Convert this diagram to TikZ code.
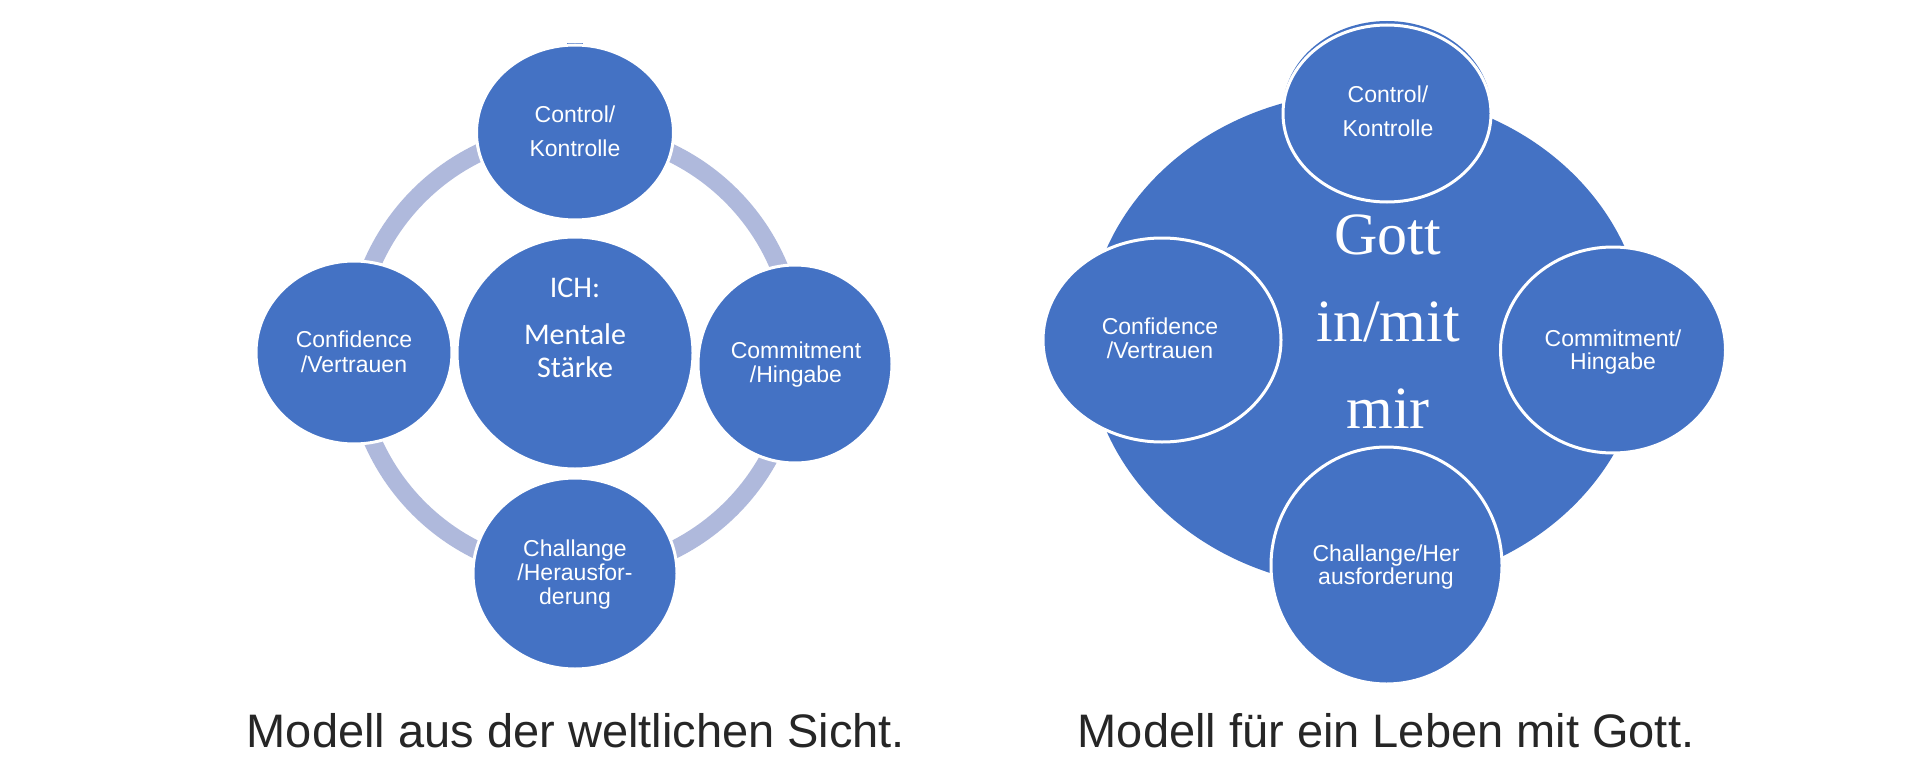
\documentclass[tikz,border=0pt]{standalone}
\usepackage{fontspec}
\setmainfont{Liberation Sans}
\newfontfamily\calfont{Carlito}
\newfontfamily\serfont{Liberation Serif}
\usetikzlibrary{shapes.geometric}
\definecolor{mblue}{HTML}{4472C4}
\definecolor{mring}{HTML}{AFB9DC}
\definecolor{mcap}{HTML}{262626}
\begin{document}
\begin{tikzpicture}[x=1pt,y=-1pt,
  bub/.style={ellipse, fill=mblue, draw=white, line width=3pt, inner sep=0pt},
  bigbub/.style={ellipse, fill=mblue, inner sep=0pt},
  lbl/.style={text=white, align=center, inner sep=0pt},
  ringline/.style={draw=mring, line width=18pt},
  caption/.style={text=mcap, inner sep=0pt, anchor=base, font=\fontsize{47}{56}\selectfont}]
\useasboundingbox (0,0) rectangle (1920,768);
\fill[white] (0,0) rectangle (1920,768);

% ---------- left model ----------
\coordinate (ringc) at (575,352);
\draw[ringline] (ringc) circle[radius=221pt];
\fill[mblue] (567,43) rectangle (583,48);
\node[bub, minimum width=197pt, minimum height=175pt] (ctrlL) at (575,132.5) {};
\node[bub, minimum width=196pt, minimum height=183pt] (confL) at (354,352.5) {};
\node[bub, minimum width=236pt, minimum height=232pt] (ichL) at (575,353) {};
\node[bub, minimum width=194pt, minimum height=198pt] (commL) at (795,364) {};
\node[bub, minimum width=204pt, minimum height=191pt] (challL) at (575,573.5) {};

\node[lbl, font=\fontsize{23}{34}\selectfont] (ctrlLt) at (575,131.5) {Control/\\Kontrolle};
\node[lbl, font=\fontsize{23}{25}\selectfont] (confLt) at (354,352) {Confidence\\/Vertrauen};
\node[lbl, font=\calfont\fontsize{30}{33}\selectfont] (ichLt) at (575,328) {ICH:\\[14pt]Mentale\\Stärke};
\node[lbl, font=\fontsize{23}{24}\selectfont] (commLt) at (796,365) {Commitment\\/Hingabe};
\node[lbl, font=\fontsize{23}{24}\selectfont] (challLt) at (575,575) {Challange\\/Herausfor-\\derung};

% ---------- right model ----------
\node[bigbub, minimum width=558pt, minimum height=496pt] (gottR) at (1366,340) {};
\node[bigbub, minimum width=208pt, minimum height=177pt] (ctrlRb) at (1387,109.5) {};
\node[bub, minimum width=208pt, minimum height=177pt] (ctrlR) at (1387,113.5) {};
\node[bub, minimum width=238pt, minimum height=204pt] (confR) at (1162,340) {};
\node[bub, minimum width=225pt, minimum height=206pt] (commR) at (1613,350) {};
\node[bub, minimum width=231pt, minimum height=237pt] (challR) at (1386.5,565.5) {};

\node[lbl, font=\fontsize{23}{34}\selectfont] (ctrlRt) at (1388,111.5) {Control/\\Kontrolle};
\node[lbl, font=\fontsize{23}{24}\selectfont] (confRt) at (1160,338.5) {Confidence\\/Vertrauen};
\node[lbl, font=\fontsize{23}{23}\selectfont] (commRt) at (1613,352.5) {Commitment/\\Hingabe};
\node[lbl, font=\fontsize{23}{23}\selectfont] (challRt) at (1386,567.5) {Challange/Her\\ausforderung};
\node[lbl, font=\serfont\fontsize{60}{87}\selectfont] (gottRt) at (1388,321.5) {Gott\\in/mit\\mir};

% ---------- captions ----------
\node[caption] (capL) at (576,747) {Modell aus der weltlichen Sicht.};
\node[caption] (capR) at (1386,747) {Modell für ein Leben mit Gott.};
\end{tikzpicture}
\end{document}
